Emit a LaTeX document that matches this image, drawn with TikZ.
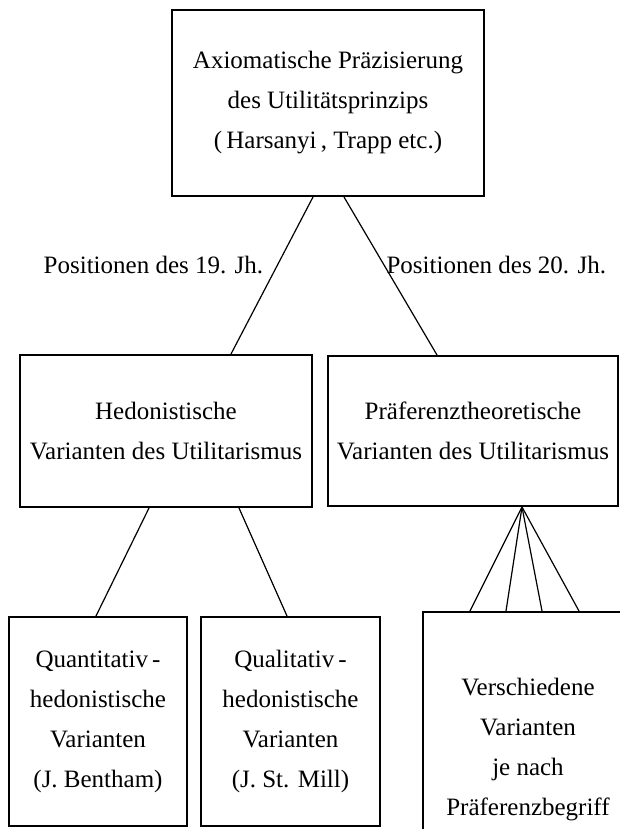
\documentclass[tikz,border=0pt]{standalone}
\usepackage{fontspec}
\setmainfont{Liberation Serif}
\usetikzlibrary{positioning}

\tikzset{
	box/.style={draw, line width=1pt, align=center, inner sep=0pt,
		font=\fontsize{12.5}{20}\selectfont},
	link/.style={line width=0.6pt},
	lbl/.style={font=\fontsize{12.5}{15}\selectfont, inner sep=1pt}
}

\begin{document}
\begin{tikzpicture}[x=0.5pt, y=-0.5pt]

	\useasboundingbox (0,0) rectangle (620,829);
	\clip (0,0) rectangle (620,829);

	\node[box, minimum width=156pt, minimum height=93pt] (axiom) at (328,103)
		{Axiomatische Präzisierung\\des Utilitätsprinzips\\(\,Harsanyi\,, Trapp etc.)};
	\node[box, minimum width=146pt, minimum height=76pt] (hedon) at (166,431)
		{Hedonistische\\Varianten des Utilitarismus};
	\node[box, minimum width=145pt, minimum height=75pt, right=7pt of hedon] (praef)
		{Präferenztheoretische\\Varianten des Utilitarismus};
	\node[box, minimum width=89pt, minimum height=104.5pt] (quant) at (98,721.5)
		{Quantitativ\,-\\hedonistische\\Varianten\\(J. Bentham)};
	\node[box, minimum width=89.5pt, minimum height=104.5pt, right=6pt of quant] (qual)
		{Qualitativ\,-\\hedonistische\\Varianten\\(J. St. Mill)};
	\node[box, minimum width=105pt, minimum height=138pt, anchor=north west] (versch) at (422,611)
		{Verschiedene\\Varianten\\je nach\\Präferenzbegriff};

	\draw[link] ([xshift=-7.5pt]axiom.south) -- node[lbl, pos=0.43, left=6pt] {Positionen des 19. Jh.} ([xshift=32.5pt]hedon.north);
	\draw[link] ([xshift=8pt]axiom.south) -- node[lbl, pos=0.43, right] {Positionen des 20. Jh.} ([xshift=-18pt]praef.north);
	\draw[link] ([xshift=-8.5pt]hedon.south) -- ([xshift=-1pt]quant.north);
	\draw[link] ([xshift=36.5pt]hedon.south) -- ([xshift=-1.75pt]qual.north);
	\foreach \dx in {-29, -11, 7, 25.5}
		\draw[link] ([xshift=24.5pt]praef.south) -- ([xshift=\dx pt]versch.north);

\end{tikzpicture}
\end{document}
